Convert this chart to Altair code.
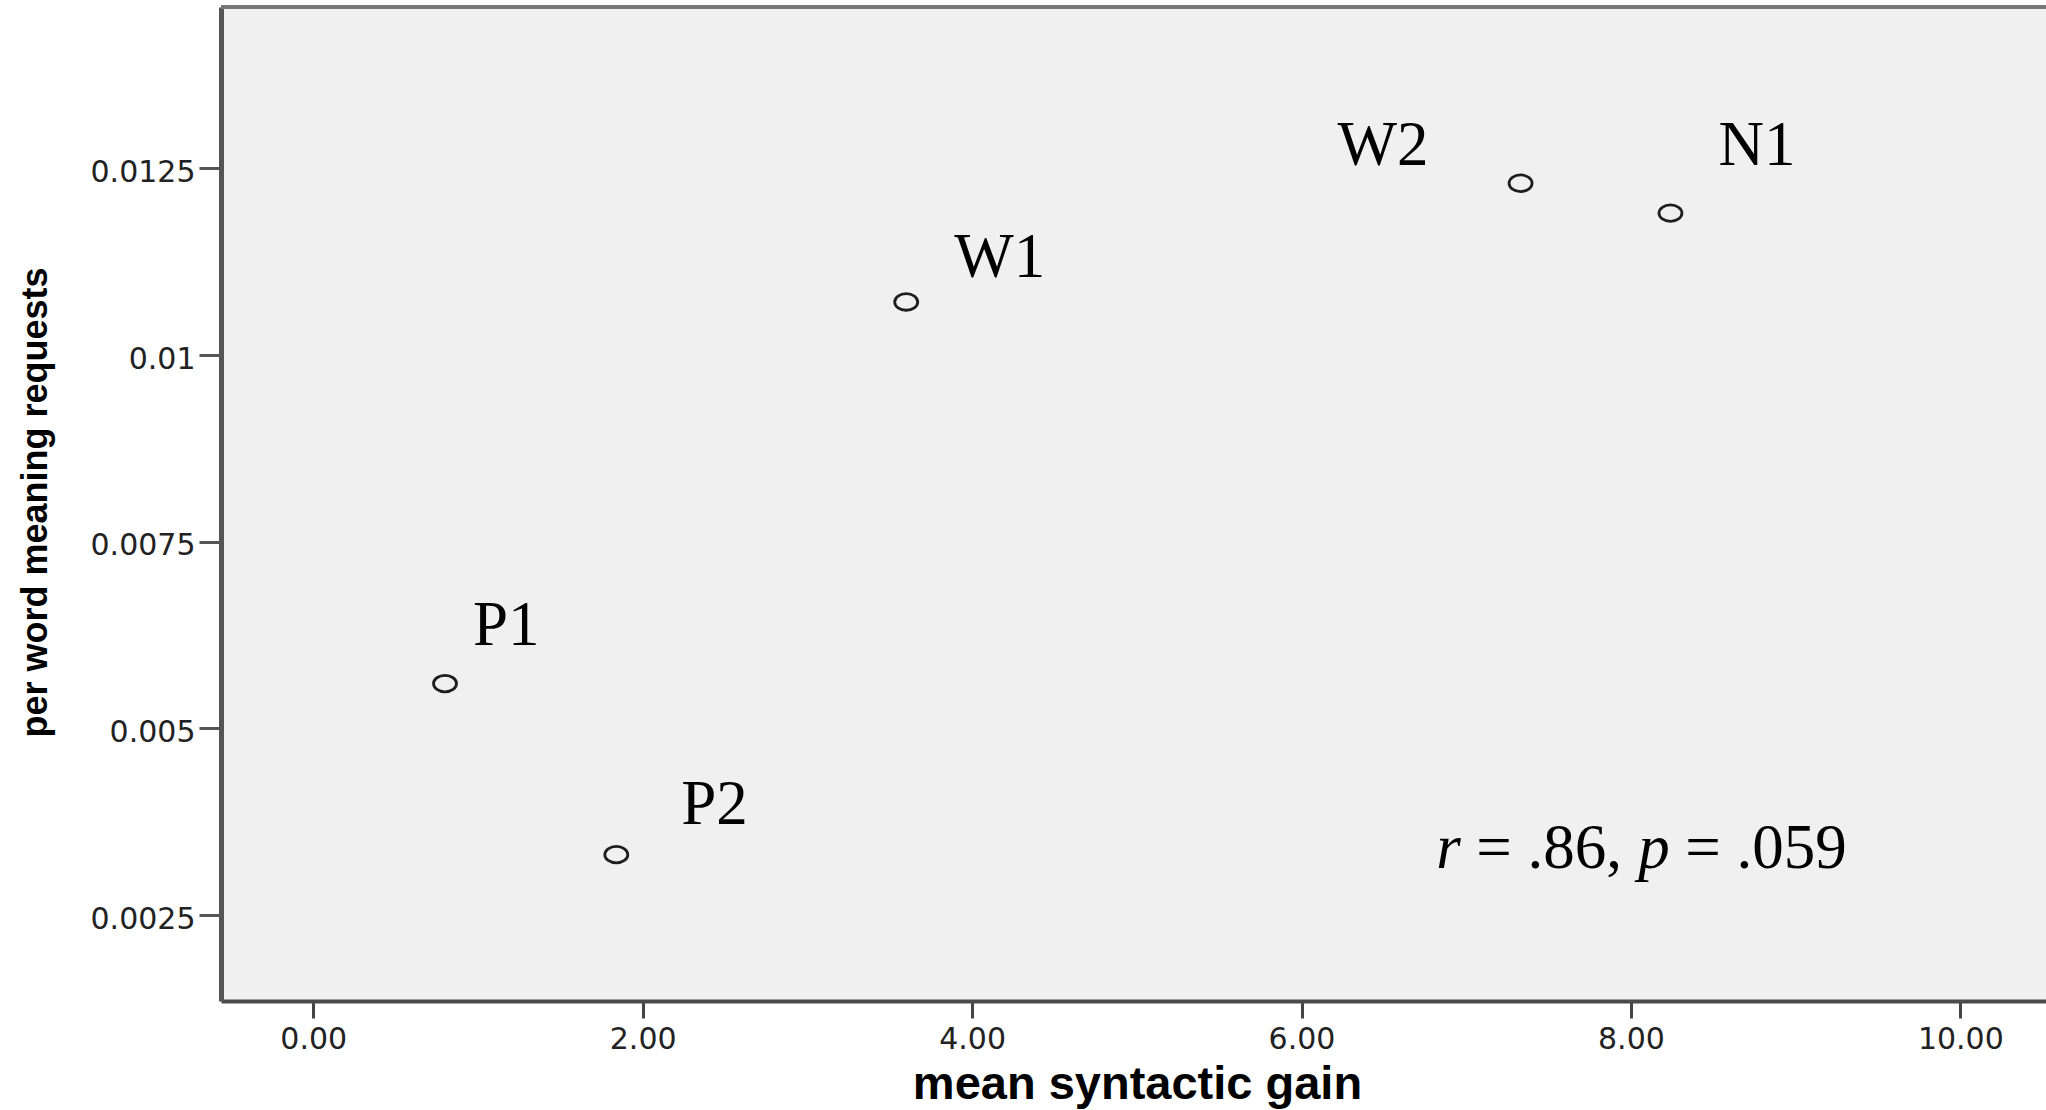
import altair as alt
import pandas as pd

# Group means: syntactic gain vs. per-word meaning requests
groups = ["P1", "P2", "W1", "W2", "N1"]
syntactic_gain = [0.80, 1.84, 3.60, 7.33, 8.24]
word_requests = [0.00560, 0.00331, 0.01071, 0.01230, 0.01190]

x_ticks = [0, 2, 4, 6, 8, 10]
y_ticks = [0.0025, 0.005, 0.0075, 0.01, 0.0125]

# Correlation statement, split so r and p can be set in italics
stat_r = ".86"
stat_p = ".059"

df = pd.DataFrame({"group": groups, "gain": syntactic_gain, "requests": word_requests})

X_DOMAIN = [-0.56, 10.52]
Y_DOMAIN = [0.00135, 0.01466]
W, H = 1825, 994

SERIF = "Liberation Serif, Times New Roman, serif"
SANS = "DejaVu Sans, Liberation Sans, sans-serif"
TITLE_FONT = "Liberation Sans, Arial, sans-serif"

x_scale = alt.Scale(domain=X_DOMAIN, nice=False, zero=False)
y_scale = alt.Scale(domain=Y_DOMAIN, nice=False, zero=False)

x_axis = alt.Axis(
    values=x_ticks, format=".2f", title="mean syntactic gain", grid=False,
    domainColor="#4a4a4a", domainWidth=4,
    tickColor="#444444", tickWidth=3, tickSize=17,
    labelFont=SANS, labelFontSize=30, labelColor="#222222", labelPadding=6,
    titleFont=TITLE_FONT, titleFontSize=47, titleFontWeight="bold", titleColor="#000000",
    titleX=916, titleY=97, titleBaseline="alphabetic", titleAlign="center",
)
y_axis = alt.Axis(
    values=y_ticks, format=".4~f", title="per word meaning requests", grid=False,
    domainColor="#555555", domainWidth=5,
    tickColor="#555555", tickWidth=3, tickSize=22,
    labelFont=SANS, labelFontSize=30, labelColor="#222222", labelPadding=4, labelOffset=4,
    titleFont=TITLE_FONT, titleFontSize=36, titleFontWeight="bold", titleColor="#000000",
    titleAngle=270, titleX=-175, titleY=495, titleBaseline="alphabetic", titleAlign="center",
)

# Slightly flattened open circle marker
ellipse = "M-1,0 A1,0.72 0 1,1 1,0 A1,0.72 0 1,1 -1,0 Z"

base = alt.Chart(df)

points = base.mark_point(
    shape=ellipse, size=529, filled=False, stroke="#1e1e1e", strokeWidth=2.8, opacity=1
).encode(
    x=alt.X("gain:Q", scale=x_scale, axis=x_axis),
    y=alt.Y("requests:Q", scale=y_scale, axis=y_axis),
)

# Label placement relative to each point (pixels)
label_offsets = {
    "P1": (28, -39),
    "P2": (65, -31),
    "W1": (48, -25),
    "W2": (-183, -18),
    "N1": (48, -48),
}

label_layers = []
for g in groups:
    dx, dy = label_offsets[g]
    label_layers.append(
        base.transform_filter(alt.datum.group == g)
        .mark_text(align="left", baseline="alphabetic", dx=dx, dy=dy,
                   font=SERIF, fontSize=63, color="#000000")
        .encode(x=alt.X("gain:Q", scale=x_scale), y=alt.Y("requests:Q", scale=y_scale),
                text="group:N")
    )

# Correlation annotation anchored in data space
ANN_X, ANN_Y = 6.818, 0.003127
pieces = [
    ("r", "italic", 0),
    ("= " + stat_r + ",", "normal", 40),
    ("p", "italic", 202),
    ("= " + stat_p, "normal", 249),
]
ann_layers = []
for txt, style, off in pieces:
    ann_layers.append(
        alt.Chart(pd.DataFrame({"t": [txt]}))
        .mark_text(align="left", baseline="alphabetic", dx=off,
                   font=SERIF, fontSize=63, fontStyle=style, color="#000000")
        .encode(x=alt.datum(ANN_X, scale=x_scale), y=alt.datum(ANN_Y, scale=y_scale), text="t:N")
    )

# Top frame line of the plot area
top_frame = alt.Chart(pd.DataFrame({"y": [Y_DOMAIN[1]]})).mark_rule(
    color="#777777", strokeWidth=4
).encode(y=alt.Y("y:Q", scale=y_scale), x=alt.value(0), x2=alt.value(W))

chart = alt.layer(points, *label_layers, *ann_layers, top_frame).properties(
    width=W, height=H,
    padding={"left": 221, "top": 7, "right": 0, "bottom": 109},
    autosize=alt.AutoSizeParams(type="none"),
    background="#ffffff",
).configure_view(fill="#f0f0f0", strokeWidth=0)

chart.save("out.html", embed_options={"renderer": "svg", "actions": False})
